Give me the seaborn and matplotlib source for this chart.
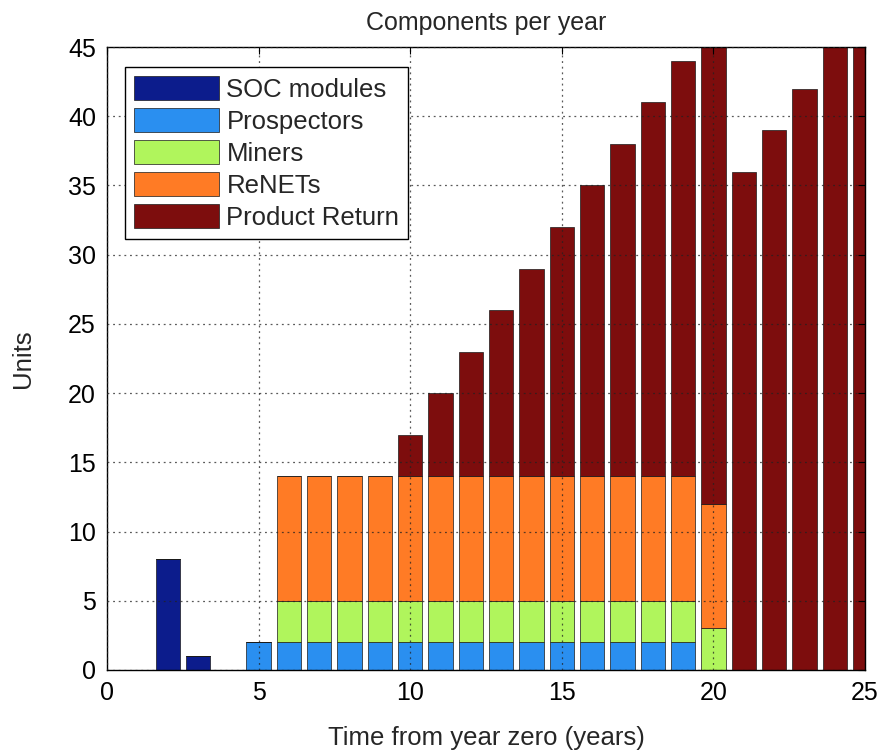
import matplotlib
matplotlib.use("Agg")
import matplotlib.pyplot as plt
from matplotlib.patches import Patch
import numpy as np
import pandas as pd
import seaborn as sns

# Yearly component counts (years 2..25)
years = list(range(2, 26))
soc_modules    = [8, 1, 0, 0, 0, 0, 0, 0, 0, 0, 0, 0, 0, 0, 0, 0, 0, 0, 0, 0, 0, 0, 0, 0]
prospectors    = [0, 0, 0, 2, 2, 2, 2, 2, 2, 2, 2, 2, 2, 2, 2, 2, 2, 2, 0, 0, 0, 0, 0, 0]
miners         = [0, 0, 0, 0, 3, 3, 3, 3, 3, 3, 3, 3, 3, 3, 3, 3, 3, 3, 3, 0, 0, 0, 0, 0]
renets         = [0, 0, 0, 0, 9, 9, 9, 9, 9, 9, 9, 9, 9, 9, 9, 9, 9, 9, 9, 0, 0, 0, 0, 0]
product_return = [0, 0, 0, 0, 0, 0, 0, 0, 3, 6, 9, 12, 15, 18, 21, 24, 27, 30, 35, 36, 39, 42, 45, 48]

series_names = ["SOC modules", "Prospectors", "Miners", "ReNETs", "Product Return"]
series_values = [soc_modules, prospectors, miners, renets, product_return]
series_colors = ["#0c1c8c", "#2a8ff0", "#b0f55c", "#ff7b25", "#7d0d0d"]

df = pd.DataFrame({
    "year": np.tile(years, len(series_names)),
    "units": np.concatenate(series_values),
    "component": np.repeat(series_names, len(years)),
})
palette = dict(zip(series_names, series_colors))

sns.set_style("white")
plt.rcParams["font.family"] = ["Liberation Sans", "DejaVu Sans"]

fig = plt.figure(figsize=(8.8, 7.56), dpi=100)
ax = fig.add_axes([0.1216, 0.1138, 0.8614, 0.8240])

# seaborn stacks hue levels top-down, so list the top layer first
sns.histplot(
    data=df, x="year", weights="units", hue="component",
    hue_order=series_names[::-1], palette=palette,
    multiple="stack", discrete=True, shrink=0.8,
    alpha=1, edgecolor="#1a1a1a", linewidth=0.5,
    legend=False, ax=ax,
)

ax.set_xlim(0, 25)
ax.set_ylim(0, 45)
ax.set_xticks(np.arange(0, 26, 5))
ax.set_yticks(np.arange(0, 46, 5))

fs = 18.5
ax.tick_params(axis="both", which="both", direction="in", length=5, width=0.8,
               top=True, right=True, labelsize=18, pad=8, colors="black")
ax.grid(True, linestyle=(0, (1.5, 3)), color="#222222", linewidth=0.9, alpha=0.75)
ax.set_axisbelow(False)
for s in ax.spines.values():
    s.set_visible(True)
    s.set_color("black")
    s.set_linewidth(1.0)

ax.set_title("Components per year", fontsize=18, pad=12)
ax.set_xlabel("Time from year zero (years)", fontsize=fs, labelpad=15)
ax.set_ylabel("Units", fontsize=fs, labelpad=24)

handles = [Patch(facecolor=c, edgecolor="#1a1a1a", linewidth=0.5) for c in series_colors]
leg = ax.legend(handles, series_names, loc="upper left",
                bbox_to_anchor=(0.0237, 0.968), borderaxespad=0,
                fontsize=fs, frameon=True, fancybox=False, framealpha=1,
                edgecolor="black", handlelength=3.3, handleheight=1.05,
                handletextpad=0.3, labelspacing=0.25, borderpad=0.35)
leg.get_frame().set_linewidth(1.0)

fig.savefig("out.png", dpi=100)
